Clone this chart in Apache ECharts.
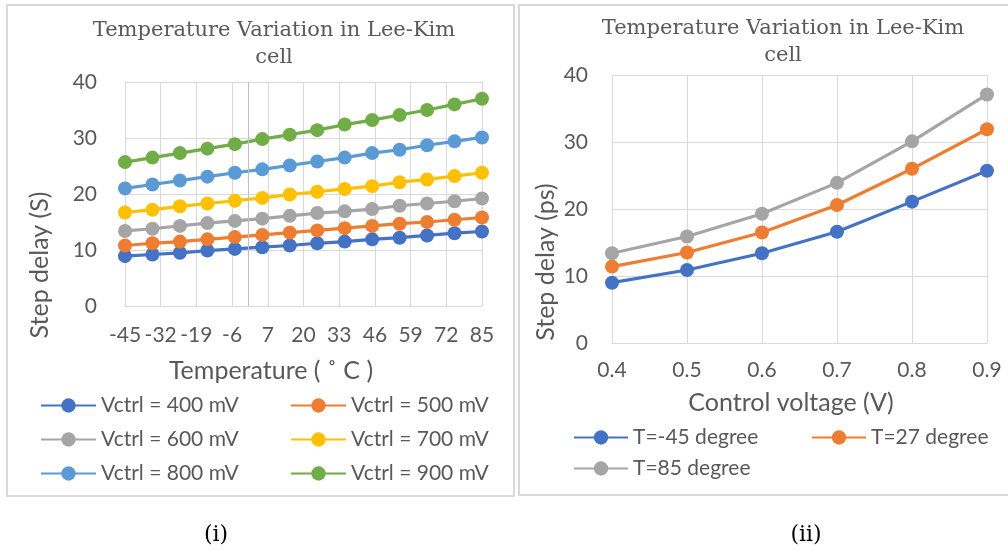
<!DOCTYPE html>
<html>
<head>
<meta charset="utf-8">
<script src="https://cdn.jsdelivr.net/npm/echarts@6/dist/echarts.min.js"></script>
<style>
html,body{margin:0;padding:0;background:#fff;}
#c{width:1008px;height:550px;}
</style>
</head>
<body>
<div id="c"></div>
<script>
// ---- Data: chart (i) ----
const temperatures = [-45, -35, -25, -15, -5, 5, 15, 25, 35, 45, 55, 65, 75, 85];
const vctrl400 = [8.9, 9.2, 9.5, 9.9, 10.2, 10.5, 10.8, 11.2, 11.5, 11.9, 12.2, 12.6, 13.0, 13.3];
const vctrl500 = [10.8, 11.2, 11.5, 11.9, 12.3, 12.7, 13.1, 13.5, 13.9, 14.3, 14.7, 15.0, 15.4, 15.8];
const vctrl600 = [13.4, 13.8, 14.3, 14.8, 15.2, 15.6, 16.1, 16.6, 16.9, 17.3, 17.9, 18.3, 18.7, 19.2];
const vctrl700 = [16.7, 17.2, 17.8, 18.3, 18.8, 19.3, 19.9, 20.4, 20.9, 21.4, 22.1, 22.6, 23.2, 23.8];
const vctrl800 = [21.0, 21.7, 22.4, 23.1, 23.8, 24.4, 25.1, 25.8, 26.5, 27.3, 27.9, 28.7, 29.4, 30.1];
const vctrl900 = [25.7, 26.5, 27.3, 28.1, 28.9, 29.8, 30.6, 31.4, 32.4, 33.2, 34.1, 35.0, 36.0, 37.0];
const leftNames = ['Vctrl = 400 mV', 'Vctrl = 500 mV', 'Vctrl = 600 mV', 'Vctrl = 700 mV', 'Vctrl = 800 mV', 'Vctrl = 900 mV'];

// ---- Data: chart (ii) ----
const voltages = [0.4, 0.5, 0.6, 0.7, 0.8, 0.9];
const tMinus45 = [9.0, 10.9, 13.4, 16.6, 21.1, 25.7];
const t27 = [11.4, 13.5, 16.5, 20.6, 26.0, 31.9];
const t85 = [13.4, 15.9, 19.3, 23.9, 30.1, 37.1];
const rightNames = ['T=-45 degree', 'T=27 degree', 'T=85 degree'];

const titleText = 'Temperature Variation in Lee-Kim\ncell';

const colors = ['#4472C4', '#ED7D31', '#A5A5A5', '#FFC000', '#5B9BD5', '#70AD47'];
const SANS = 'Lato, "Open Sans", sans-serif';
const SERIF = '"DejaVu Serif", serif';
const TXT = '#595959';
const GRID = '#d9d9d9';

const leftSeriesData = [vctrl400, vctrl500, vctrl600, vctrl700, vctrl800, vctrl900];
const rightSeriesData = [tMinus45, t27, t85];

function mkLine(name, xs, ys, color, axisIdx) {
  return {
    name: name, type: 'line', xAxisIndex: axisIdx, yAxisIndex: axisIdx,
    data: xs.map((x, i) => [x, ys[i]]),
    symbol: 'circle', symbolSize: 14, showSymbol: true,
    lineStyle: {width: 3.2, color: color}, itemStyle: {color: color},
    emphasis: {disabled: true}, animation: false
  };
}

const series = [];
leftSeriesData.forEach((d, i) => series.push(mkLine(leftNames[i], temperatures, d, colors[i], 0)));
series[0].markLine = {
  silent: true, symbol: 'none', label: {show: false}, animation: false,
  lineStyle: {color: '#bfbfbf', type: 'solid', width: 1},
  data: [{xAxis: 0}]
};
rightSeriesData.forEach((d, i) => series.push(mkLine(rightNames[i], voltages, d, colors[i], 1)));

const legends = [];
const lpos = [[40, 405], [290, 405], [40, 439], [290, 439], [40, 473], [290, 473]];
leftNames.forEach((n, i) => legends.push({
  data: [n], left: lpos[i][0], top: lpos[i][1] - 10, padding: 0,
  itemWidth: 55, itemHeight: 18, selectedMode: false,
  textStyle: {fontFamily: SANS, fontSize: 21, color: TXT}
}));
const rpos = [[573, 437], [811, 437], [573, 468]];
rightNames.forEach((n, i) => legends.push({
  data: [n], left: rpos[i][0], top: rpos[i][1] - 10, padding: 0,
  itemWidth: 54, itemHeight: 18, selectedMode: false,
  textStyle: {fontFamily: SANS, fontSize: 21, color: TXT}
}));

function axisLabelStyle(margin) {
  return {fontFamily: SANS, fontSize: 21, color: TXT, margin: margin};
}

const option = {
  backgroundColor: '#fff',
  animation: false,
  grid: [
    {left: 125, right: 1008 - 482, top: 82, bottom: 550 - 306},
    {left: 612, right: 1008 - 987, top: 75, bottom: 550 - 343}
  ],
  xAxis: [
    {type: 'value', gridIndex: 0, min: -45, max: 85, interval: 13,
     axisLine: {show: true, onZero: false, lineStyle: {color: GRID, width: 1}},
     axisTick: {show: false},
     axisLabel: axisLabelStyle(19),
     splitLine: {show: true, lineStyle: {color: GRID, width: 1}}},
    {type: 'value', gridIndex: 1, min: 0.4, max: 0.9, interval: 0.1,
     axisLine: {show: true, onZero: false, lineStyle: {color: GRID, width: 1}},
     axisTick: {show: false},
     axisLabel: Object.assign(axisLabelStyle(17), {formatter: v => v.toFixed(1)}),
     splitLine: {show: true, lineStyle: {color: GRID, width: 1}}}
  ],
  yAxis: [
    {type: 'value', gridIndex: 0, min: 0, max: 40, interval: 10,
     axisLine: {show: false}, axisTick: {show: false},
     axisLabel: axisLabelStyle(28),
     splitLine: {show: true, lineStyle: {color: GRID, width: 1}}},
    {type: 'value', gridIndex: 1, min: 0, max: 40, interval: 10,
     axisLine: {show: false}, axisTick: {show: false},
     axisLabel: axisLabelStyle(24),
     splitLine: {show: true, lineStyle: {color: GRID, width: 1}}}
  ],
  legend: legends,
  series: series,
  graphic: [
    {type: 'rect', z: -10, shape: {x: 7, y: 5, width: 507, height: 491}, style: {fill: 'none', stroke: GRID, lineWidth: 2}},
    {type: 'rect', z: -10, shape: {x: 519, y: 5, width: 500, height: 490}, style: {fill: 'none', stroke: GRID, lineWidth: 2}},
    {type: 'text', x: 274, y: 44, style: {text: titleText, textAlign: 'center', textVerticalAlign: 'middle', fontFamily: SERIF, fontSize: 21, lineHeight: 27, fill: TXT}},
    {type: 'text', x: 783, y: 42, style: {text: titleText, textAlign: 'center', textVerticalAlign: 'middle', fontFamily: SERIF, fontSize: 21, lineHeight: 27, fill: TXT}},
    {type: 'text', x: 271, y: 371, style: {text: 'Temperature ( \u02DA C )', textAlign: 'center', textVerticalAlign: 'middle', fontFamily: SANS, fontSize: 25, fill: TXT}},
    {type: 'text', x: 40, y: 265, rotation: Math.PI / 2, style: {text: 'Step delay (S)', textAlign: 'center', textVerticalAlign: 'middle', fontFamily: SANS, fontSize: 25, fill: TXT}},
    {type: 'text', x: 791, y: 403, style: {text: 'Control voltage (V)', textAlign: 'center', textVerticalAlign: 'middle', fontFamily: SANS, fontSize: 25, fill: TXT}},
    {type: 'text', x: 546, y: 262, rotation: Math.PI / 2, style: {text: 'Step delay (ps)', textAlign: 'center', textVerticalAlign: 'middle', fontFamily: SANS, fontSize: 25, fill: TXT}},
    {type: 'text', x: 216, y: 535, style: {text: '(i)', textAlign: 'center', textVerticalAlign: 'middle', fontFamily: SERIF, fontSize: 22, fill: '#000'}},
    {type: 'text', x: 806, y: 535, style: {text: '(ii)', textAlign: 'center', textVerticalAlign: 'middle', fontFamily: SERIF, fontSize: 22, fill: '#000'}}
  ]
};

const chart = echarts.init(document.getElementById('c'), null, {renderer: 'canvas'});
chart.setOption(option);
</script>
</body>
</html>
